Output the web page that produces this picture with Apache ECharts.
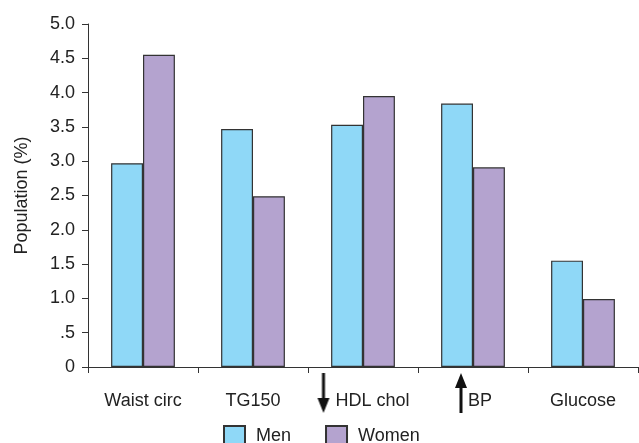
<!DOCTYPE html>
<html>
<head>
<meta charset="utf-8">
<script src="https://cdn.jsdelivr.net/npm/echarts@6/dist/echarts.min.js"></script>
<style>
  html, body { margin: 0; padding: 0; background: #fff; }
  #chart { width: 639px; height: 443px; }
</style>
</head>
<body>
<div id="chart"></div>
<script>
// data
var categories = ["Waist circ", "TG150", "HDL chol", "BP", "Glucose"];
var arrows = ["", "", "down", "up", ""];
var men = [2.97, 3.47, 3.53, 3.84, 1.55];
var women = [4.55, 2.49, 3.95, 2.91, 0.99];
var yTicks = ["0", ".5", "1.0", "1.5", "2.0", "2.5", "3.0", "3.5", "4.0", "4.5", "5.0"];

// little arrow glyphs painted on a canvas, used as rich-text backgrounds
function arrowCanvas(dir) {
  var c = document.createElement("canvas");
  c.width = 14;
  c.height = 56;
  var g = c.getContext("2d");
  g.fillStyle = "#111";
  if (dir === "down") {
    g.fillRect(5.5, 0, 3, 28);
    g.beginPath();
    g.moveTo(1, 25); g.lineTo(13, 25); g.lineTo(7, 40); g.closePath();
    g.fill();
  } else {
    g.fillRect(5.5, 12, 3, 28);
    g.beginPath();
    g.moveTo(1, 15); g.lineTo(13, 15); g.lineTo(7, 0); g.closePath();
    g.fill();
  }
  return c;
}

var chart = echarts.init(document.getElementById("chart"));
chart.setOption({
  animation: false,
  textStyle: { fontFamily: "Liberation Sans, Arial, sans-serif", color: "#222" },
  grid: { left: 88, right: 1, top: 24, bottom: 76, containLabel: false },
  legend: {
    top: 425,
    left: 223,
    padding: 0,
    icon: "rect",
    itemWidth: 21,
    itemHeight: 21,
    itemGap: 34,
    textStyle: { fontSize: 18, color: "#222", padding: [0, 0, 0, 6] },
    data: ["Men", "Women"]
  },
  xAxis: {
    type: "category",
    data: categories,
    axisLine: { lineStyle: { color: "#333", width: 1 } },
    axisTick: { show: true, length: 6, lineStyle: { color: "#333" } },
    axisLabel: {
      interval: 0,
      margin: 6,
      fontSize: 18,
      lineHeight: 56,
      color: "#222",
      formatter: function (v, i) {
        var a = arrows[i];
        if (a === "down") return "{dn|} " + v;
        if (a === "up") return "{up|}" + v;
        return v;
      },
      rich: {
        dn: { width: 14, height: 56, verticalAlign: "middle", backgroundColor: { image: arrowCanvas("down") } },
        up: { width: 14, height: 56, verticalAlign: "middle", backgroundColor: { image: arrowCanvas("up") } }
      }
    }
  },
  yAxis: {
    type: "value",
    min: 0,
    max: 5,
    interval: 0.5,
    name: "Population (%)",
    nameLocation: "middle",
    nameGap: 57,
    nameTextStyle: { fontSize: 18, color: "#222" },
    axisLine: { show: true, lineStyle: { color: "#333" } },
    axisTick: { show: true, length: 6, lineStyle: { color: "#333" } },
    splitLine: { show: false },
    axisLabel: {
      fontSize: 18,
      color: "#222",
      margin: 13,
      formatter: function (v) {
        return yTicks[Math.round(v * 2)];
      }
    }
  },
  series: [
    {
      name: "Men",
      type: "bar",
      data: men,
      barGap: "0%",
      barCategoryGap: "42%",
      itemStyle: { color: "#8fd8f7", borderColor: "#333", borderWidth: 1.2 }
    },
    {
      name: "Women",
      type: "bar",
      data: women,
      itemStyle: { color: "#b4a3cf", borderColor: "#333", borderWidth: 1.2 }
    }
  ]
});
</script>
</body>
</html>
